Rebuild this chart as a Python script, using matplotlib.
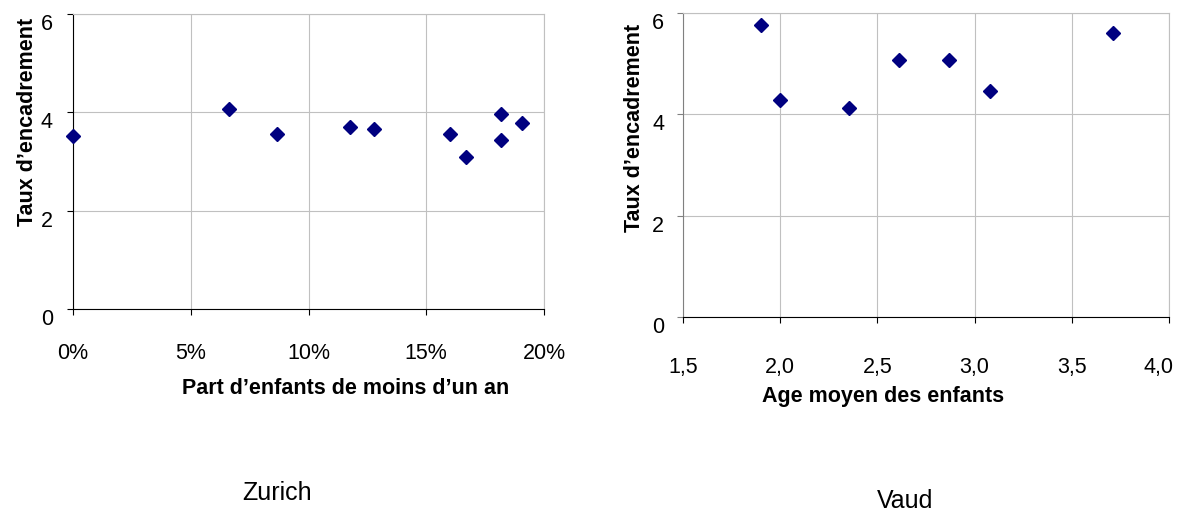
import matplotlib
matplotlib.use("Agg")
import matplotlib.pyplot as plt
import matplotlib.transforms as mtransforms
from matplotlib.ticker import FuncFormatter

plt.rcParams['font.family'] = ['Liberation Sans', 'DejaVu Sans']

# Zurich: share of children under one year vs staffing rate
zh_share = [0.0, 6.63, 8.68, 11.75, 12.77, 15.99, 16.67, 18.19, 18.19, 19.06]
zh_rate = [3.51, 4.07, 3.55, 3.71, 3.67, 3.55, 3.10, 3.96, 3.43, 3.79]

# Vaud: mean age of children vs staffing rate
vd_age = [1.90, 2.00, 2.354, 2.61, 2.87, 3.08, 3.71]
vd_rate = [5.76, 4.28, 4.12, 5.07, 5.07, 4.47, 5.61]

zh_xticks = [0, 5, 10, 15, 20]
vd_xticks = [1.5, 2.0, 2.5, 3.0, 3.5, 4.0]
yticks = [0, 2, 4, 6]

W, H = 1177, 516
fig = plt.figure(figsize=(W / 100, H / 100), dpi=100)

def px_axes(x0, y0, x1, y1):
    return fig.add_axes([x0 / W, 1 - y1 / H, (x1 - x0) / W, (y1 - y0) / H])

grid_c = '#c0c0c0'
navy = '#000080'
fs = 15.5

def style(ax, xpad, ypad, ycol):
    ax.set_yticks(yticks)
    ax.set_ylim(0, 6)
    ax.grid(True, color=grid_c, lw=0.8)
    ax.set_axisbelow(True)
    for s in ['top', 'right']:
        ax.spines[s].set_color(grid_c)
        ax.spines[s].set_linewidth(0.8)
    ax.spines['bottom'].set_color('black')
    ax.spines['left'].set_color(ycol)
    ax.tick_params(axis='x', direction='out', length=4.5, width=0.8,
                   pad=xpad, labelsize=fs)
    ax.tick_params(axis='y', direction='out', length=4.5, width=0.8,
                   pad=ypad, labelsize=fs, color=ycol)
    for lbl in ax.get_yticklabels():
        lbl.set_verticalalignment('top')

# Zurich
ax1 = px_axes(73, 14, 544, 309)
ax1.plot(zh_share, zh_rate, 'D', color=navy, ms=7, clip_on=False, zorder=3)
ax1.set_xlim(0, 20)
ax1.set_xticks(zh_xticks)
ax1.xaxis.set_major_formatter(FuncFormatter(lambda v, p: f"{v:.0f}%"))
style(ax1, 20, 10, 'black')

# Vaud
ax2 = px_axes(683, 13, 1169, 317)
ax2.plot(vd_age, vd_rate, 'D', color=navy, ms=7, clip_on=False, zorder=3)
ax2.set_xlim(1.5, 4.0)
ax2.set_xticks(vd_xticks)
ax2.xaxis.set_major_formatter(
    FuncFormatter(lambda v, p: f"{v:.1f}".replace('.', ',')))
style(ax2, 24, 9, '#808080')

# pull the last label in so it stays on the canvas
last = ax2.get_xticklabels()[-1]
last.set_transform(last.get_transform() +
                   mtransforms.ScaledTranslation(-10 / 100, 0, fig.dpi_scale_trans))

def ftext(x, y, s, **kw):
    fig.text(x / W, 1 - y / H, s, **kw)

ftext(28, 122, "Taux d\u2019encadrement", rotation=90, ha='center',
      va='center', fontsize=fs, fontweight='bold')
ftext(635, 128, "Taux d\u2019encadrement", rotation=90, ha='center',
      va='center', fontsize=fs, fontweight='bold')
ftext(346, 394, "Part d\u2019enfants de moins d\u2019un an", ha='center',
      va='baseline', fontsize=fs, fontweight='bold')
ftext(883, 402, "Age moyen des enfants", ha='center', va='baseline',
      fontsize=fs, fontweight='bold')

ftext(277, 500, "Zurich", ha='center', va='baseline', fontsize=18)
ftext(905, 508, "Vaud", ha='center', va='baseline', fontsize=18)

fig.savefig("out.png", dpi=100)
